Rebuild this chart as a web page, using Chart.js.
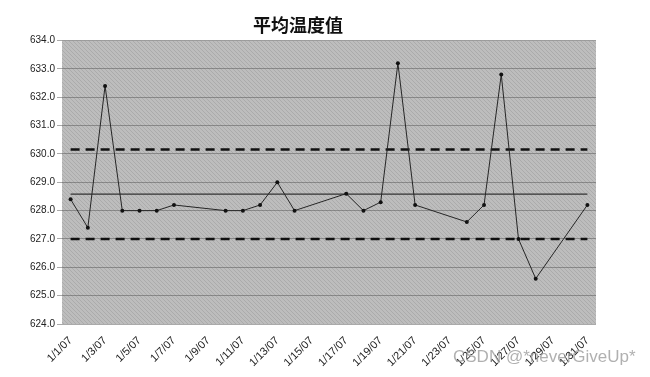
<!DOCTYPE html>
<html>
<head>
<meta charset="utf-8">
<script src="https://cdn.jsdelivr.net/npm/chart.js@4/dist/chart.umd.min.js"></script>
<style>
  html, body { margin: 0; padding: 0; background: #fff; }
</style>
</head>
<body>
<canvas id="myChart" width="650" height="377"></canvas>
<script>
// days of January 2007, one slot each
const days = ['1/1/07', '1/2/07', '1/3/07', '1/4/07', '1/5/07', '1/6/07', '1/7/07', '1/8/07',
  '1/9/07', '1/10/07', '1/11/07', '1/12/07', '1/13/07', '1/14/07', '1/15/07', '1/16/07',
  '1/17/07', '1/18/07', '1/19/07', '1/20/07', '1/21/07', '1/22/07', '1/23/07', '1/24/07',
  '1/25/07', '1/26/07', '1/27/07', '1/28/07', '1/29/07', '1/30/07', '1/31/07'];

// average temperature, null = no sample that day
const avgTemp = [628.4, 627.4, 632.4, 628.0, 628.0, 628.0, 628.2, null,
  null, 628.0, 628.0, 628.2, 629.0, 628.0, null, null,
  628.6, 628.0, 628.3, 633.2, 628.2, null, null, 627.6,
  628.2, 632.8, 627.0, 625.6, null, null, 628.2];

const centerLine = 628.58;
const upperLimit = 630.16;
const lowerLimit = 627.0;

const yTicks = [624, 625, 626, 627, 628, 629, 630, 631, 632, 633, 634];

function makeHatch() {
    var c = document.createElement('canvas');
    c.width = 4; c.height = 4;
    var g = c.getContext('2d');
    g.fillStyle = '#bdbdbd';
    g.fillRect(0, 0, 4, 4);
    g.fillStyle = '#ababab';
    for (var i = 0; i < 4; i++) {
        g.fillRect(i, i, 1, 1);
    }
    return g.createPattern(c, 'repeat');
}

const hatchBg = {
    id: 'hatchBg',
    beforeDraw(chart) {
        var ctx = chart.ctx, a = chart.chartArea;
        ctx.save();
        ctx.fillStyle = makeHatch();
        ctx.fillRect(a.left, a.top, a.right - a.left, a.bottom - a.top);
        ctx.restore();
    },
    afterDraw(chart) {
        var ctx = chart.ctx;
        ctx.save();
        ctx.font = '17px "Liberation Sans", Arial, sans-serif';
        ctx.fillStyle = 'rgba(150,150,150,0.75)';
        ctx.textBaseline = 'middle';
        ctx.fillText('CSDN @*neverGiveUp*', 453, 357);
        ctx.restore();
    }
};

function limitLine(v) {
    return [{ x: days[0], y: v }, { x: days[days.length - 1], y: v }];
}

var ctx = document.getElementById('myChart');

new Chart(ctx, {
    type: 'line',
    data: {
        labels: days,
        datasets: [
            {
                label: '平均温度值',
                data: avgTemp,
                borderColor: '#262626',
                borderWidth: 1,
                pointRadius: 2,
                pointBackgroundColor: '#111',
                pointBorderWidth: 0,
                spanGaps: true,
                tension: 0
            },
            {
                data: limitLine(centerLine),
                borderColor: '#333',
                borderWidth: 1.3,
                pointRadius: 0
            },
            {
                data: limitLine(upperLimit),
                borderColor: '#111',
                borderWidth: 2.5,
                borderDash: [9, 6],
                pointRadius: 0
            },
            {
                data: limitLine(lowerLimit),
                borderColor: '#111',
                borderWidth: 2.5,
                borderDash: [9, 6],
                pointRadius: 0
            }
        ]
    },
    options: {
        responsive: false,
        animation: false,
        layout: { padding: { left: 0, right: 54, top: 0, bottom: 0 } },
        plugins: {
            legend: { display: false },
            tooltip: { enabled: false },
            title: {
                display: true,
                text: '平均温度值',
                color: '#111',
                font: { family: '"Noto Sans CJK SC", sans-serif', size: 18, weight: 'bold' },
                padding: { top: 14, bottom: 5 }
            }
        },
        scales: {
            x: {
                type: 'category',
                offset: true,
                grid: { display: false },
                border: { display: false },
                ticks: {
                    autoSkip: false,
                    maxRotation: 45,
                    minRotation: 45,
                    color: '#222',
                    padding: 2,
                    font: { family: '"Liberation Sans", Arial, sans-serif', size: 11 },
                    callback: function (v, i) { return i % 2 === 0 ? days[i] : ''; }
                },
                afterFit: function (s) { s.height = 53; }
            },
            y: {
                min: yTicks[0],
                max: yTicks[yTicks.length - 1],
                afterBuildTicks: function (s) { s.ticks = yTicks.map(function (v) { return { value: v }; }); },
                grid: { color: 'rgba(85,85,85,0.5)', lineWidth: 1, tickLength: 5 },
                border: { display: false },
                ticks: {
                    color: '#222',
                    padding: 2,
                    font: { family: '"Liberation Sans", Arial, sans-serif', size: 10 },
                    callback: function (v) { return Number(v).toFixed(1); }
                },
                afterFit: function (s) { s.width = 62; }
            }
        }
    },
    plugins: [hatchBg]
});
</script>
</body>
</html>
